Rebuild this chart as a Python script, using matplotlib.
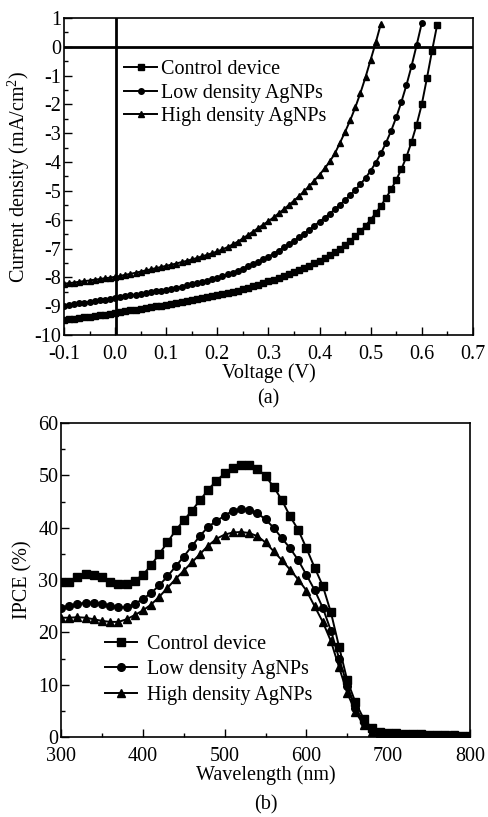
import numpy as np
import matplotlib.pyplot as plt
from matplotlib.ticker import MultipleLocator, FormatStrFormatter

plt.rcParams['font.family'] = ['Liberation Serif', 'DejaVu Serif']
plt.rcParams['axes.unicode_minus'] = False
plt.rcParams['mathtext.fontset'] = 'custom'
plt.rcParams['mathtext.rm'] = 'Liberation Serif'

labels = ['Control device', 'Low density AgNPs', 'High density AgNPs']
markers = ['s', 'o', '^']

# J-V curves, voltage step 0.01 V starting at -0.10 V
v_start = -0.10
j_control = [-9.48, -9.46, -9.44, -9.41, -9.39, -9.36, -9.34, -9.31, -9.29, -9.26,
             -9.24, -9.21, -9.18, -9.15, -9.13, -9.10, -9.07, -9.04, -9.01, -8.98,
             -8.95, -8.92, -8.89, -8.86, -8.83, -8.80, -8.76, -8.73, -8.69, -8.66,
             -8.62, -8.58, -8.54, -8.50, -8.46, -8.41, -8.36, -8.31, -8.26, -8.20,
             -8.14, -8.08, -8.02, -7.96, -7.89, -7.82, -7.75, -7.67, -7.59, -7.51,
             -7.42, -7.33, -7.23, -7.12, -7.00, -6.87, -6.73, -6.57, -6.40, -6.21,
             -6.00, -5.77, -5.52, -5.25, -4.95, -4.62, -4.25, -3.82, -3.30, -2.70,
             -2.00, -1.10, -0.15, 0.75]
j_low = [-8.98, -8.95, -8.93, -8.90, -8.88, -8.85, -8.83, -8.80, -8.77, -8.75,
         -8.72, -8.69, -8.66, -8.63, -8.60, -8.58, -8.55, -8.52, -8.49, -8.46,
         -8.43, -8.40, -8.36, -8.32, -8.28, -8.24, -8.20, -8.16, -8.11, -8.07,
         -8.02, -7.96, -7.90, -7.84, -7.77, -7.70, -7.62, -7.54, -7.46, -7.37,
         -7.28, -7.18, -7.07, -6.96, -6.85, -6.73, -6.61, -6.48, -6.35, -6.21,
         -6.07, -5.93, -5.79, -5.64, -5.48, -5.32, -5.15, -4.97, -4.77, -4.55,
         -4.30, -4.02, -3.70, -3.33, -2.92, -2.45, -1.92, -1.33, -0.67, 0.06,
         0.82]
j_high = [-8.22, -8.20, -8.18, -8.15, -8.13, -8.11, -8.08, -8.06, -8.03, -8.01,
          -7.98, -7.95, -7.91, -7.88, -7.84, -7.80, -7.76, -7.72, -7.68, -7.64,
          -7.60, -7.56, -7.52, -7.47, -7.43, -7.38, -7.33, -7.27, -7.22, -7.16,
          -7.10, -7.03, -6.95, -6.86, -6.76, -6.65, -6.53, -6.41, -6.29, -6.17,
          -6.05, -5.92, -5.78, -5.64, -5.49, -5.34, -5.18, -5.01, -4.83, -4.64,
          -4.44, -4.22, -3.98, -3.70, -3.33, -2.95, -2.55, -2.10, -1.60, -1.05,
          -0.45, 0.15, 0.80]

# IPCE spectra, 300-800 nm every 10 nm
wavelength = list(range(300, 801, 10))
ipce_control = [29.6, 29.7, 30.6, 31.1, 31.0, 30.5, 29.7, 29.2, 29.3, 29.9,
                31.0, 32.8, 35.0, 37.2, 39.5, 41.4, 43.3, 45.3, 47.3, 49.0,
                50.4, 51.4, 52.1, 52.0, 51.3, 49.9, 47.8, 45.3, 42.2, 39.6,
                36.1, 32.4, 28.9, 23.8, 17.2, 10.8, 6.6, 3.5, 1.7, 1.0,
                0.8, 0.7, 0.6, 0.5, 0.5, 0.4, 0.4, 0.3, 0.3, 0.2, 0.2]
ipce_low = [24.6, 25.0, 25.4, 25.7, 25.7, 25.4, 25.1, 24.8, 24.8, 25.4,
            26.4, 27.5, 29.0, 30.7, 32.6, 34.5, 36.5, 38.5, 40.2, 41.3,
            42.3, 43.3, 43.6, 43.4, 42.8, 41.6, 40.0, 38.0, 36.1, 33.8,
            31.0, 28.1, 24.7, 20.3, 15.0, 9.8, 5.6, 2.9, 1.3, 0.9,
            0.7, 0.6, 0.5, 0.5, 0.4, 0.4, 0.3, 0.3, 0.3, 0.2, 0.2]
ipce_high = [22.8, 22.8, 22.9, 22.8, 22.5, 22.2, 22.0, 22.0, 22.5, 23.3,
             24.2, 25.3, 26.8, 28.5, 30.2, 31.8, 33.4, 35.0, 36.6, 37.9,
             38.7, 39.1, 39.2, 39.0, 38.4, 37.2, 35.5, 33.8, 32.0, 30.1,
             28.0, 25.0, 22.0, 18.3, 13.3, 8.4, 4.8, 2.3, 1.0, 0.7,
             0.5, 0.5, 0.4, 0.4, 0.3, 0.3, 0.3, 0.2, 0.2, 0.2, 0.2]

fs = 14.5
fig = plt.figure(figsize=(4.89, 8.17), dpi=100)

# (a) J-V
ax1 = fig.add_axes([0.131, 0.590, 0.836, 0.388])
for j, m, lab in zip([j_control, j_low, j_high], markers, labels):
    v = v_start + 0.01 * np.arange(len(j))
    ax1.plot(v, j, color='black', lw=1.4, marker=m, ms=4, label=lab)
ax1.axhline(0, color='black', lw=2)
ax1.axvline(0.001, color='black', lw=2)
ax1.set_xlim(-0.1, 0.7)
ax1.set_ylim(-10, 1)
ax1.xaxis.set_major_locator(MultipleLocator(0.1))
ax1.xaxis.set_minor_locator(MultipleLocator(0.05))
ax1.xaxis.set_major_formatter(FormatStrFormatter('%.1f'))
ax1.yaxis.set_major_locator(MultipleLocator(1))
ax1.yaxis.set_minor_locator(MultipleLocator(0.5))
ax1.set_xlabel('Voltage (V)', fontsize=fs, labelpad=0)
ax1.set_ylabel('Current density (mA/cm$^2$)', fontsize=fs, labelpad=2)
ax1.legend(loc='upper left', bbox_to_anchor=(0.128, 0.893), frameon=False,
           fontsize=fs, handlelength=1.6, handletextpad=0.2, labelspacing=0.22,
           borderaxespad=0)
ax1.text(0.5, -0.2, '(a)', transform=ax1.transAxes, ha='center', va='center',
         fontsize=fs)

# (b) IPCE
ax2 = fig.add_axes([0.125, 0.098, 0.836, 0.384])
for y, m, lab in zip([ipce_control, ipce_low, ipce_high], markers, labels):
    ax2.plot(wavelength, y, color='black', lw=1.4, marker=m, ms=5.5, label=lab)
ax2.set_xlim(300, 800)
ax2.set_ylim(0, 60)
ax2.xaxis.set_major_locator(MultipleLocator(100))
ax2.xaxis.set_minor_locator(MultipleLocator(50))
ax2.yaxis.set_major_locator(MultipleLocator(10))
ax2.yaxis.set_minor_locator(MultipleLocator(5))
ax2.set_xlabel('Wavelength (nm)', fontsize=fs, labelpad=0)
ax2.set_ylabel('IPCE (%)', fontsize=fs, labelpad=4)
ax2.legend(loc='upper left', bbox_to_anchor=(0.088, 0.35), frameon=False,
           fontsize=fs, handlelength=1.6, handletextpad=0.5, labelspacing=0.3,
           borderaxespad=0)
ax2.text(0.5, -0.215, '(b)', transform=ax2.transAxes, ha='center', va='center',
         fontsize=fs)

for ax in (ax1, ax2):
    ax.tick_params(which='both', direction='in', top=False, right=False,
                   labelsize=fs)
    ax.tick_params(axis='y', which='both', pad=2)
    ax.tick_params(axis='x', which='both', pad=7)
    ax.tick_params(which='major', length=6, width=1)
    ax.tick_params(which='minor', length=3, width=1)
    for s in ax.spines.values():
        s.set_linewidth(1.2)

fig.savefig('out.png', dpi=100)
